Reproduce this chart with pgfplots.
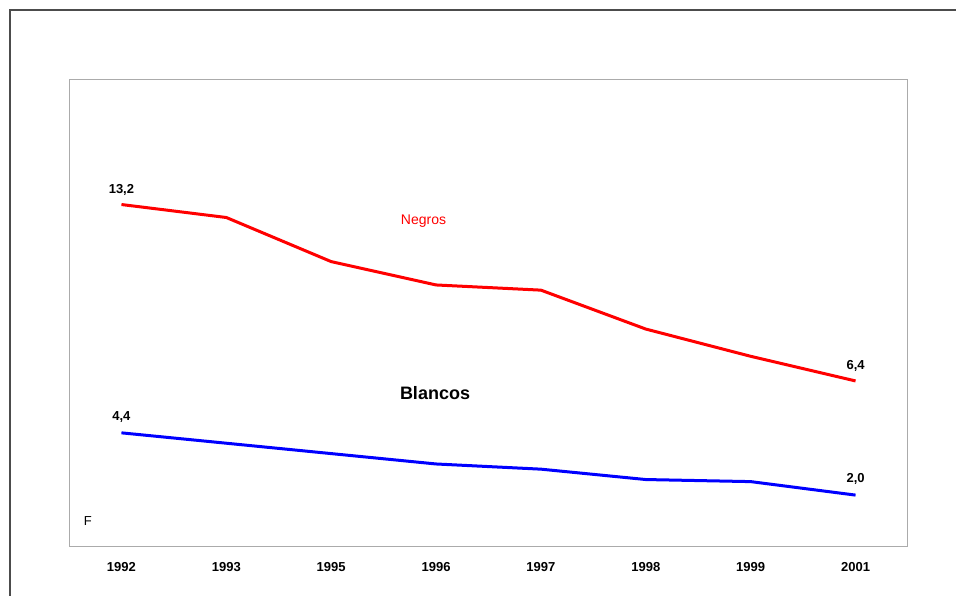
\documentclass[border=0pt]{standalone}
\usepackage{pgfplots}
\pgfplotsset{compat=1.18}
\usepackage{fontspec}
\setmainfont{Liberation Sans}
\begin{document}
\begin{tikzpicture}[x=1pt,y=1pt]
\path[use as bounding box] (0pt,0pt) rectangle (956pt,596pt);
\draw[line width=1.5pt,black!70] (10pt,0pt) -- (10pt,586pt) -- (956pt,586pt);
\begin{axis}[
 at={(69pt,49pt)},anchor=south west,
 scale only axis,width=839pt,height=467pt,
 xmin=-0.5,xmax=7.5,ymin=0,ymax=18,
 axis line style={black!33,line width=1pt},
 ytick=\empty,
 xtick={0,...,7},
 xticklabels={1992,1993,1995,1996,1997,1998,1999,2001},
 major tick length=0pt,
 every x tick label/.append style={font=\fontsize{13}{15}\selectfont\bfseries,yshift=-12pt},
 clip=false]
\addplot[line width=3pt,color=red,mark=none] coordinates {
 (0,13.2) (1,12.7) (2,11.0) (3,10.1) (4,9.9) (5,8.4) (6,7.35) (7,6.4)};
\addplot[line width=3pt,color=blue,mark=none] coordinates {
 (0,4.4) (1,4.0) (2,3.6) (3,3.2) (4,3.0) (5,2.6) (6,2.52) (7,2.0)};
\node[font=\fontsize{13}{15}\selectfont\bfseries] at (axis cs:0,13.78) {13,2};
\node[font=\fontsize{13}{15}\selectfont\bfseries] at (axis cs:7,6.98) {6,4};
\node[font=\fontsize{13}{15}\selectfont\bfseries] at (axis cs:0,5.02) {4,4};
\node[font=\fontsize{13}{15}\selectfont\bfseries] at (axis cs:7,2.62) {2,0};
\node[font=\fontsize{14}{16}\selectfont,text=red] at (axis cs:2.88,12.55) {Negros};
\node[font=\fontsize{18}{20}\selectfont\bfseries] at (axis cs:2.99,5.95) {Blancos};
\node[font=\fontsize{13}{15}\selectfont] at (axis cs:-0.32,1.0) {F};
\end{axis}
\end{tikzpicture}
\end{document}
